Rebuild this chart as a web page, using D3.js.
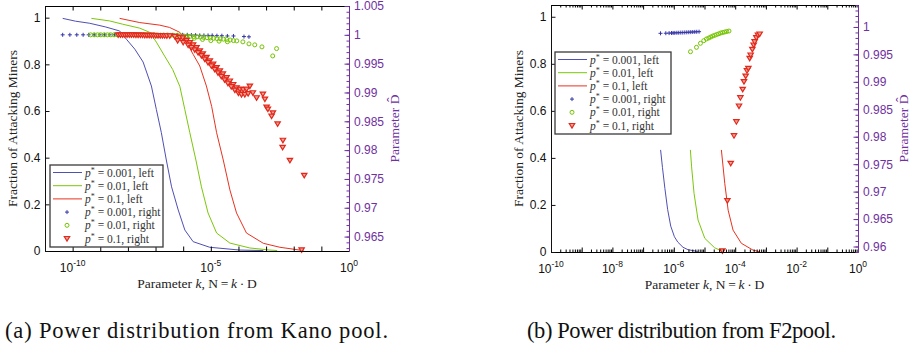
<!DOCTYPE html>
<html><head><meta charset="utf-8">
<script src="https://cdn.jsdelivr.net/npm/d3@7"></script>
<style>body{margin:0;background:#fff} svg{display:block}</style>
</head><body><svg id="c" width="915" height="352"></svg>
<script>
// ---------- DATA (x values are log10 k) ----------
const seriesLabels = ["0.001, left", "0.01, left", "0.1, left", "0.001, right", "0.01, right", "0.1, right"];
const yLeftTicks = [0, 0.2, 0.4, 0.6, 0.8, 1];
const yRightTicksA = [0.965, 0.97, 0.975, 0.98, 0.985, 0.99, 0.995, 1, 1.005];
const yRightTicksB = [0.96, 0.965, 0.97, 0.975, 0.98, 0.985, 0.99, 0.995, 1];
const xLabelExpA = [-10, -5, 0];
const xLabelExpB = [-10, -8, -6, -4, -2, 0];
const captions = ["(a) Power distribution from Kano pool.", "(b) Power distribution from F2pool."];

// Panel (a): Kano pool
const blueLineA = [[-10.36,0.997],[-9.9,0.985],[-9.38,0.976],[-8.8,0.96],[-8.30,0.943],[-8.05,0.907],[-7.75,0.865],[-7.45,0.81],[-7.15,0.707],[-6.97,0.606],[-6.79,0.507],[-6.61,0.39],[-6.42,0.275],[-6.18,0.176],[-5.94,0.09],[-5.64,0.04],[-5.04,0.016],[-3.95,0.004],[-3.1,0.002]];
const greenLineA = [[-9.32,0.997],[-8.66,0.986],[-8.19,0.972],[-7.57,0.955],[-7.21,0.937],[-6.97,0.895],[-6.67,0.835],[-6.38,0.778],[-6.12,0.705],[-5.94,0.606],[-5.76,0.507],[-5.54,0.39],[-5.34,0.275],[-5.10,0.163],[-4.79,0.077],[-4.31,0.034],[-3.59,0.013],[-2.86,0.004],[-2.6,0.002]];
const redLineA = [[-8.30,0.997],[-7.57,0.979],[-6.85,0.968],[-6.49,0.958],[-6.12,0.937],[-5.88,0.895],[-5.64,0.843],[-5.40,0.793],[-5.16,0.707],[-4.97,0.62],[-4.79,0.507],[-4.55,0.39],[-4.31,0.262],[-4.07,0.163],[-3.71,0.077],[-3.10,0.033],[-2.50,0.016],[-1.78,0.004],[-1.65,0.002]];
const blueDotsA = [[-10.36,1.0],[-10.1,1.0],[-9.85,1.0],[-9.62,1.0],[-9.42,1.0],[-9.22,1.0],[-9.02,1.0],[-8.84,1.0],[-8.66,1.0],[-8.48,1.0],[-8.3,1.0],[-8.12,1.0],[-7.95,1.0],[-7.78,1.0],[-7.6,1.0],[-7.42,1.0],[-7.25,1.0],[-7.08,1.0],[-6.9,1.0],[-6.72,1.0],[-6.55,1.0],[-6.38,1.0],[-6.2,1.0],[-6.02,1.0],[-5.85,1.0],[-5.7,0.99995],[-5.55,0.99995],[-5.4,0.9999],[-5.25,0.9999],[-5.1,0.9999],[-4.95,0.9999],[-4.78,0.99985],[-4.6,0.99985],[-4.4,0.9998],[-4.18,0.9998],[-3.80,0.9997],[-3.62,0.99965]];
const greenDotsA = [[-9.35,1.0],[-9.22,1.0],[-9.1,1.0],[-8.98,1.0],[-8.86,1.0],[-8.74,1.0],[-8.62,1.0],[-8.5,1.0],[-8.38,1.0],[-8.26,1.0],[-8.14,1.0],[-8.02,1.0],[-7.9,1.0],[-7.78,1.0],[-7.66,1.0],[-7.54,1.0],[-7.42,1.0],[-7.3,1.0],[-7.18,1.0],[-7.06,1.0],[-6.94,0.99995],[-6.82,0.99995],[-6.7,0.99995],[-6.58,0.99995],[-6.46,0.9999],[-6.34,0.9999],[-6.22,0.9999],[-6.1,0.99985],[-5.98,0.9998],[-5.86,0.9998],[-5.74,0.99975],[-5.62,0.9997],[-5.5,0.99965],[-5.38,0.9996],[-5.26,0.99955],[-5.14,0.9995],[-5.02,0.99945],[-4.9,0.9994],[-4.78,0.99935],[-4.66,0.9993],[-4.54,0.99925],[-4.42,0.9992],[-4.3,0.9991],[-4.18,0.999],[-5.9,0.9996],[-5.6,0.9994],[-5.3,0.9992],[-5.0,0.9990],[-4.7,0.9989],[-4.4,0.9988],[-4.06,0.99895],[-3.84,0.99878],[-3.62,0.99843],[-3.41,0.99826],[-3.15,0.99791],[-2.76,0.99634],[-2.62,0.99761]];
const redDotsA = [[-8.35,1.0],[-8.27,1.0],[-8.19,1.0],[-8.11,1.0],[-8.03,1.0],[-7.95,1.0],[-7.87,1.0],[-7.79,1.0],[-7.71,0.99995],[-7.63,0.99995],[-7.55,0.99995],[-7.47,0.99995],[-7.39,0.9999],[-7.31,0.9999],[-7.23,0.9999],[-7.15,0.9999],[-7.07,0.9999],[-6.99,0.99988],[-6.91,0.99988],[-6.83,0.99986],[-6.75,0.99986],[-6.67,0.99985],[-6.59,0.99984],
 [-6.486,0.99983],[-6.304,0.99974],[-6.123,0.99956],[-6.014,0.99948],[-5.880,0.99904],[-5.761,0.99866],[-5.641,0.99826],[-5.518,0.99779],[-5.399,0.99721],[-5.290,0.99669],[-5.156,0.99608],[-5.036,0.99547],[-4.917,0.99490],[-4.793,0.99430],[-4.674,0.99373],[-4.565,0.99321],[-4.431,0.99256],[-4.312,0.99199],[-4.192,0.99138],[-4.069,0.99082],[-3.949,0.99059],[-3.830,0.99051],[-3.707,0.99059],[-3.587,0.99111],
 [-6.2,0.9990],[-6.0,0.9987],[-5.82,0.9982],[-5.7,0.9978],[-5.58,0.9974],[-5.46,0.9969],[-5.34,0.9964],[-5.22,0.9958],[-5.1,0.9952],[-4.98,0.9946],[-4.86,0.9940],[-4.74,0.9934],[-4.62,0.9928],[-4.5,0.9922],[-4.38,0.9916],[-4.26,0.9910],[-4.13,0.9904],[-4.0,0.9899],[-3.89,0.98965],[-3.77,0.98965],[-3.65,0.9898],
 [-3.478,0.98995],[-3.344,0.98908],[-3.116,0.98972],[-3.043,0.98885],[-2.982,0.98746],[-2.935,0.98711],[-2.754,0.98646],[-2.801,0.98589],[-2.583,0.98455],[-2.391,0.98171],[-2.402,0.98049],[-2.138,0.97822],[-1.620,0.97561],[-1.714,0.9627]];

// Panel (b): F2pool
const blueLineB = [[-6.43,0.434],[-6.37,0.36],[-6.29,0.27],[-6.2,0.18],[-6.1,0.11],[-5.98,0.065],[-5.87,0.042],[-5.7,0.02],[-5.54,0.01],[-5.22,0.002]];
const greenLineB = [[-5.46,0.434],[-5.42,0.362],[-5.34,0.249],[-5.21,0.136],[-4.99,0.058],[-4.67,0.018],[-4.40,0.002]];
const redLineB = [[-4.45,0.434],[-4.34,0.292],[-4.23,0.178],[-4.07,0.093],[-3.80,0.037],[-3.42,0.008],[-3.20,0.001]];
const blueDotsB = [[-6.433,0.99884],[-6.26,0.99886],[-6.153,0.99888],[-6.075,0.9989],[-6.023,0.99891],[-5.967,0.99892],[-5.90,0.99894],[-5.838,0.99895],[-5.772,0.99897],[-5.707,0.99898],[-5.642,0.999],[-5.577,0.99902],[-5.512,0.99904],[-5.447,0.99906],[-5.382,0.99908],[-5.317,0.9991],[-5.252,0.99912],[-5.177,0.99914]];
const greenDotsB = [[-5.457,0.99549],[-5.262,0.99629],[-5.132,0.99702],[-5.024,0.9975],[-4.937,0.99781],[-4.862,0.99799],[-4.797,0.99817],[-4.732,0.99835],[-4.667,0.99848],[-4.602,0.99863],[-4.537,0.99875],[-4.472,0.9989],[-4.407,0.99899],[-4.341,0.99908],[-4.276,0.99917],[-4.202,0.99926]];
const redDotsB = [[-4.416,0.9592],[-4.254,0.96835],[-4.146,0.97516],[-4.039,0.98019],[-3.961,0.98274],[-3.876,0.9856],[-3.831,0.98711],[-3.756,0.98864],[-3.714,0.99003],[-3.659,0.99106],[-3.616,0.99203],[-3.571,0.99247],[-3.528,0.99429],[-3.496,0.99489],[-3.441,0.99593],[-3.398,0.99671],[-3.366,0.99731],[-3.311,0.99804],[-3.259,0.99853],[-3.203,0.99872]];

// ---------- STYLE ----------
const SERIF = "'Liberation Serif','Times New Roman',serif";
const SANS = "'Liberation Sans',Arial,Helvetica,sans-serif";
const PURPLE = "#7030a0";
const lineColors = ["#4f4fb4", "#7bc70a", "#e8321f"];
const dotColors = ["#3636a8", "#74c400", "#e2281a"];

const svg = d3.select("#c");

function marker(g, kind, cx, cy, color) {
  if (kind === 0) {
    g.append("path").attr("d", `M${cx-2},${cy}H${cx+2}M${cx},${cy-2}V${cy+2}`)
      .attr("stroke", color).attr("stroke-width", 1).attr("fill", "none");
  } else if (kind === 1) {
    g.append("circle").attr("cx", cx).attr("cy", cy).attr("r", 2)
      .attr("stroke", color).attr("stroke-width", 1).attr("fill", "none");
  } else {
    g.append("path").attr("d", `M${cx-2.7},${cy-2}L${cx+2.7},${cy-2}L${cx},${cy+2.5}Z`)
      .attr("stroke", color).attr("stroke-width", 1.2).attr("fill", "#f4a196");
  }
}

function drawPanel(p) {
  const g = svg.append("g");
  const x = d3.scaleLog().domain(p.xDomain).range([p.left, p.right]);
  const yL = d3.scaleLinear().domain([0, 1.05]).range([p.bottom, p.top]);
  const yR = d3.scaleLinear().domain(p.yRDomain).range([p.bottom, p.top]);
  const X = lk => x(Math.pow(10, lk));
  const clipId = "clip" + p.id;
  g.append("clipPath").attr("id", clipId).append("rect")
    .attr("x", p.left).attr("y", p.top - 3).attr("width", p.right - p.left).attr("height", p.bottom - p.top + 6);
  const data = g.append("g").attr("clip-path", `url(#${clipId})`);
  const line = d3.line().x(d => X(d[0])).y(d => yL(d[1]));
  p.lines.forEach((ln, i) => {
    data.append("path").datum(ln).attr("d", line).attr("fill", "none")
      .attr("stroke", lineColors[i]).attr("stroke-width", 1);
  });
  p.dots.forEach((ds, i) => {
    ds.forEach(d => marker(data, i, X(d[0]), yR(d[1]), dotColors[i]));
  });

  const e0 = Math.round(Math.log10(p.xDomain[0])), e1 = Math.round(Math.log10(p.xDomain[1]));
  const decades = d3.range(e0, e1 + 1).map(e => Math.pow(10, e));
  const minors = [];
  if (p.minor) d3.range(e0, e1).forEach(e => { for (let m = 2; m <= 9; m++) minors.push(m * Math.pow(10, e)); });

  const styleAxis = sel => sel.selectAll(".domain").attr("stroke-width", 1);
  g.append("g").attr("transform", `translate(0,${p.bottom})`)
    .call(d3.axisBottom(x).tickValues(decades).tickSize(-4.5).tickSizeOuter(0).tickFormat(""))
    .call(styleAxis);
  g.append("g").attr("transform", `translate(0,${p.top})`)
    .call(d3.axisTop(x).tickValues(decades).tickSize(-4.5).tickSizeOuter(0).tickFormat(""))
    .call(styleAxis);
  if (p.minor) {
    g.append("g").attr("transform", `translate(0,${p.bottom})`)
      .call(d3.axisBottom(x).tickValues(minors).tickSize(-2.5).tickSizeOuter(0).tickFormat(""))
      .call(s => s.select(".domain").remove());
    g.append("g").attr("transform", `translate(0,${p.top})`)
      .call(d3.axisTop(x).tickValues(minors).tickSize(-2.5).tickSizeOuter(0).tickFormat(""))
      .call(s => s.select(".domain").remove());
  }
  p.xLabelExp.forEach(e => {
    const t = g.append("text").attr("x", x(Math.pow(10, e))).attr("y", p.bottom + 20.5)
      .attr("text-anchor", "middle").attr("font-family", SANS).attr("font-size", 12).attr("fill", "#111");
    t.append("tspan").text("10");
    t.append("tspan").attr("dy", -6).attr("font-size", 8.5).text(String(e));
  });
  g.append("g").attr("transform", `translate(${p.left},0)`)
    .call(d3.axisLeft(yL).tickValues(yLeftTicks).tickSize(-4.5).tickSizeOuter(0).tickPadding(4.5).tickFormat(d => String(d)))
    .call(styleAxis)
    .attr("font-family", SANS).attr("font-size", 12).attr("color", "#111");
  const fmtR = d => String(+d.toFixed(3));
  const minorR = d3.range(Math.ceil(p.yRDomain[0] * 1000), Math.floor(p.yRDomain[1] * 1000) + 1).map(v => v / 1000);
  g.append("g").attr("transform", `translate(${p.right},0)`)
    .call(d3.axisRight(yR).tickValues(minorR).tickSize(-2.5).tickSizeOuter(0).tickFormat(""))
    .attr("color", PURPLE);
  g.append("g").attr("transform", `translate(${p.right},0)`)
    .call(d3.axisRight(yR).tickValues(p.yRTicks).tickSize(-4.5).tickSizeOuter(0).tickPadding(5).tickFormat(fmtR))
    .call(styleAxis)
    .attr("font-family", SANS).attr("font-size", 12).attr("color", PURPLE);

  const cy = (p.top + p.bottom) / 2;
  g.append("text").attr("transform", `translate(${p.left - 28},${cy}) rotate(-90)`)
    .attr("text-anchor", "middle").attr("font-family", SERIF).attr("font-size", 13.5).attr("fill", "#222")
    .text("Fraction of Attacking Miners");
  g.append("text").attr("transform", `translate(${p.right + 50},${cy}) rotate(-90)`)
    .attr("text-anchor", "middle").attr("font-family", SERIF).attr("font-size", 13.5).attr("fill", PURPLE)
    .text("Parameter D\u0302");
  const xt = g.append("text").attr("x", (p.left + p.right) / 2).attr("y", p.bottom + 37)
    .attr("text-anchor", "middle").attr("font-family", SERIF).attr("font-size", 13.5).attr("fill", "#222");
  xt.append("tspan").text("Parameter ");
  xt.append("tspan").attr("font-style", "italic").text("k");
  xt.append("tspan").text(", N\u2009=\u2009");
  xt.append("tspan").attr("font-style", "italic").text("k");
  xt.append("tspan").text("\u2009\u00b7\u2009D");

  const L = p.legend;
  const lg = g.append("g");
  lg.append("rect").attr("x", L.x).attr("y", L.y).attr("width", L.w).attr("height", L.h)
    .attr("fill", "#fff").attr("stroke", "#3a3a3a").attr("stroke-width", 1.3);
  seriesLabels.forEach((lab, i) => {
    const ey = L.y + 7.5 + i * 13.2;
    if (i < 3) {
      lg.append("line").attr("x1", L.x + 3).attr("x2", L.x + 32).attr("y1", ey).attr("y2", ey)
        .attr("stroke", lineColors[i]).attr("stroke-width", 1);
    } else {
      marker(lg, i - 3, L.x + 17, ey, dotColors[i - 3]);
    }
    const t = lg.append("text").attr("x", L.x + 35).attr("y", ey + 4)
      .attr("font-family", SERIF).attr("font-size", 11.5).attr("fill", "#333");
    t.append("tspan").attr("font-style", "italic").text("p");
    t.append("tspan").attr("dy", -4).attr("font-size", 8).text("*");
    t.append("tspan").attr("dy", 4).text(" = " + lab);
  });
}

drawPanel({
  id: "A", left: 45, right: 349, top: 6, bottom: 251,
  xDomain: [1e-11, 1], yRDomain: [0.9625, 1.005], yRTicks: yRightTicksA,
  xLabelExp: xLabelExpA, minor: false,
  lines: [blueLineA, greenLineA, redLineA],
  dots: [blueDotsA, greenDotsA, redDotsA],
  legend: { x: 50, y: 165, w: 113, h: 82 }
});
drawPanel({
  id: "B", left: 551, right: 858, top: 5, bottom: 252,
  xDomain: [1e-10, 1], yRDomain: [0.959, 1.004], yRTicks: yRightTicksB,
  xLabelExp: xLabelExpB, minor: true,
  lines: [blueLineB, greenLineB, redLineB],
  dots: [blueDotsB, greenDotsB, redDotsB],
  legend: { x: 555, y: 52, w: 116, h: 82 }
});

[[5, 383], [527, 309]].forEach((c, i) => {
  svg.append("text").attr("x", c[0]).attr("y", 338)
    .attr("font-family", SERIF).attr("font-size", 22.5).attr("fill", "#111")
    .attr("textLength", c[1]).attr("lengthAdjust", "spacing")
    .text(captions[i]);
});
</script></body></html>
